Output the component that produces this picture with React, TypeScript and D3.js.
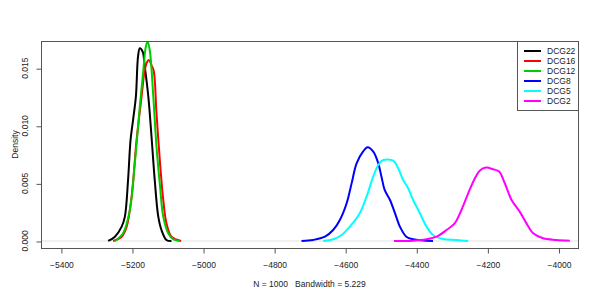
import React, { useEffect, useRef } from 'react';
import * as d3 from 'd3';

// density estimates, [value, density]
const dcg22 = [
  [-5267, 0], [-5248, 0.00037], [-5229, 0.00124], [-5220, 0.00211], [-5211, 0.0053],
  [-5204, 0.00877], [-5197, 0.0105], [-5189, 0.01253], [-5183, 0.016], [-5178, 0.01673],
  [-5170, 0.01643], [-5164, 0.01513], [-5154, 0.01253], [-5145, 0.00905], [-5136, 0.0053],
  [-5126, 0.00211], [-5117, 0.00095], [-5103, 0.00009], [-5089, 0],
];
const dcg16 = [
  [-5253, 0], [-5229, 0.00037], [-5215, 0.00124], [-5201, 0.00386], [-5187, 0.00877],
  [-5173, 0.01253], [-5164, 0.01484], [-5157, 0.01556], [-5152, 0.0157], [-5145, 0.01525],
  [-5139, 0.0148], [-5131, 0.01108], [-5121, 0.00674], [-5112, 0.00356], [-5103, 0.00154],
  [-5089, 0.00037], [-5062, 0],
];
const dcg12 = [
  [-5248, 0], [-5225, 0.00067], [-5206, 0.00269], [-5192, 0.00674], [-5178, 0.01166],
  [-5168, 0.01484], [-5161, 0.01687], [-5156, 0.0173], [-5150, 0.01658], [-5140, 0.01253],
  [-5131, 0.00819], [-5121, 0.00471], [-5112, 0.00211], [-5098, 0.00067], [-5084, 0.00015],
  [-5065, 0],
];
const dcg8 = [
  [-4723, 0], [-4690, 0.00009], [-4657, 0.00037], [-4634, 0.00095], [-4615, 0.00182],
  [-4596, 0.00327], [-4582, 0.005], [-4568, 0.00674], [-4550, 0.00775], [-4537, 0.00813],
  [-4521, 0.00775], [-4507, 0.00674], [-4498, 0.00558], [-4489, 0.00443], [-4474, 0.00356],
  [-4460, 0.00241], [-4446, 0.00124], [-4428, 0.00037], [-4409, 0.00015], [-4353, 0],
];
const dcg5 = [
  [-4662, 0], [-4634, 0.00015], [-4610, 0.00052], [-4587, 0.00124], [-4559, 0.00241],
  [-4540, 0.00385], [-4521, 0.0056], [-4507, 0.0066], [-4493, 0.00703], [-4465, 0.00697],
  [-4451, 0.00631], [-4437, 0.0053], [-4423, 0.00458], [-4409, 0.00356], [-4390, 0.00241],
  [-4371, 0.00124], [-4353, 0.00052], [-4325, 0.00017], [-4287, 0.00009], [-4254, 0],
];
const dcg2 = [
  [-4463, 0], [-4409, 0.00003], [-4371, 0.00015], [-4343, 0.00037], [-4315, 0.00095],
  [-4292, 0.00153], [-4273, 0.00269], [-4254, 0.00414], [-4235, 0.00545], [-4221, 0.00611],
  [-4204, 0.00637], [-4184, 0.00623], [-4167, 0.00603], [-4151, 0.00501], [-4132, 0.00356],
  [-4109, 0.00255], [-4090, 0.00153], [-4071, 0.00067], [-4043, 0.00023], [-4006, 0.00009],
  [-3968, 0.00003],
];

const seriesNames = ['DCG22', 'DCG16', 'DCG12', 'DCG8', 'DCG5', 'DCG2'];
const seriesData = [dcg22, dcg16, dcg12, dcg8, dcg5, dcg2];
const seriesColors = ['#000000', '#ff0000', '#00cd00', '#0000ff', '#00ffff', '#ff00ff'];

const xTicks = [-5400, -5200, -5000, -4800, -4600, -4400, -4200, -4000];
const yTicks = [0, 0.005, 0.01, 0.015];

const WIDTH = 600;
const HEIGHT = 300;
const MARGIN = { top: 41, right: 22, bottom: 52, left: 41 };

export default function App() {
  const ref = useRef<SVGSVGElement>(null);

  useEffect(() => {
    const svg = d3.select(ref.current);
    svg.selectAll('*').remove();

    const x = d3.scaleLinear().domain([-5456, -3945]).range([MARGIN.left, WIDTH - MARGIN.right]);
    const y = d3.scaleLinear().domain([-0.00061, 0.01736]).range([HEIGHT - MARGIN.bottom, MARGIN.top]);

    const font = 'Liberation Sans, Arial, sans-serif';
    const fs = 8.5;
    const axisCol = '#555';

    svg.append('defs').append('clipPath').attr('id', 'plotclip')
      .append('rect')
      .attr('x', MARGIN.left).attr('y', MARGIN.top)
      .attr('width', WIDTH - MARGIN.left - MARGIN.right)
      .attr('height', HEIGHT - MARGIN.top - MARGIN.bottom);

    // zero line
    svg.append('line')
      .attr('x1', MARGIN.left).attr('x2', WIDTH - MARGIN.right)
      .attr('y1', y(0)).attr('y2', y(0))
      .attr('stroke', '#e2e2e2').attr('stroke-width', 1);

    const line = d3.line<number[]>()
      .x(d => x(d[0]))
      .y(d => y(d[1]))
      .curve(d3.curveCatmullRom.alpha(0.5));

    const g = svg.append('g').attr('clip-path', 'url(#plotclip)');
    seriesData.forEach((s, i) => {
      g.append('path')
        .datum(s)
        .attr('d', line)
        .attr('fill', 'none')
        .attr('stroke', seriesColors[i])
        .attr('stroke-width', 2)
        .attr('stroke-linejoin', 'round');
    });

    // box
    svg.append('rect')
      .attr('x', MARGIN.left + 0.5).attr('y', MARGIN.top + 0.5)
      .attr('width', WIDTH - MARGIN.left - MARGIN.right)
      .attr('height', HEIGHT - MARGIN.top - MARGIN.bottom)
      .attr('fill', 'none').attr('stroke', axisCol);

    // x axis
    const xAxis = d3.axisBottom(x).tickValues(xTicks).tickSize(5).tickSizeOuter(0)
      .tickFormat(d => String(d).replace('-', '\u2212'));
    const gx = svg.append('g')
      .attr('transform', `translate(0.5,${HEIGHT - MARGIN.bottom + 0.5})`)
      .call(xAxis);
    gx.select('.domain').remove();
    gx.selectAll('line').attr('stroke', axisCol);
    gx.selectAll('text')
      .attr('font-family', font).attr('font-size', fs).attr('fill', '#222').attr('dy', '1.35em');

    // y axis with rotated labels
    const yAxis = d3.axisLeft(y).tickValues(yTicks).tickSize(5).tickFormat(d3.format('.3f'));
    const gy = svg.append('g')
      .attr('transform', `translate(${MARGIN.left + 0.5},0.5)`)
      .call(yAxis);
    gy.select('.domain').remove();
    gy.selectAll('line').attr('stroke', axisCol);
    gy.selectAll('text').remove();
    yTicks.forEach(t => {
      svg.append('text')
        .attr('transform', `translate(28,${y(t)}) rotate(-90)`)
        .attr('text-anchor', 'middle')
        .attr('font-family', font).attr('font-size', fs).attr('fill', '#222')
        .text(d3.format('.3f')(t));
    });

    svg.append('text')
      .attr('transform', `translate(18,${(MARGIN.top + HEIGHT - MARGIN.bottom) / 2}) rotate(-90)`)
      .attr('text-anchor', 'middle')
      .attr('font-family', font).attr('font-size', fs).attr('fill', '#222')
      .text('Density');

    svg.append('text')
      .attr('x', (MARGIN.left + WIDTH - MARGIN.right) / 2).attr('y', 287)
      .attr('text-anchor', 'middle')
      .attr('font-family', font).attr('font-size', fs).attr('fill', '#222')
      .attr('xml:space', 'preserve')
      .text('N = 1000   Bandwidth = 5.229');

    // legend
    const lx = 517, ly = 41, lw = WIDTH - MARGIN.right - 517, lh = 69;
    svg.append('rect')
      .attr('x', lx + 0.5).attr('y', ly + 0.5).attr('width', lw).attr('height', lh)
      .attr('fill', '#fff').attr('stroke', axisCol);
    seriesNames.forEach((name, i) => {
      const yy = ly + 10 + i * 10;
      svg.append('line')
        .attr('x1', lx + 7).attr('x2', lx + 24).attr('y1', yy).attr('y2', yy)
        .attr('stroke', seriesColors[i]).attr('stroke-width', 2);
      svg.append('text')
        .attr('x', lx + 30).attr('y', yy).attr('dy', '0.35em')
        .attr('font-family', font).attr('font-size', fs).attr('fill', '#222')
        .text(name);
    });
  }, []);

  return (
    <svg ref={ref} width={WIDTH} height={HEIGHT}
      style={{ position: 'absolute', left: 0, top: 0, background: '#fff' }} />
  );
}
